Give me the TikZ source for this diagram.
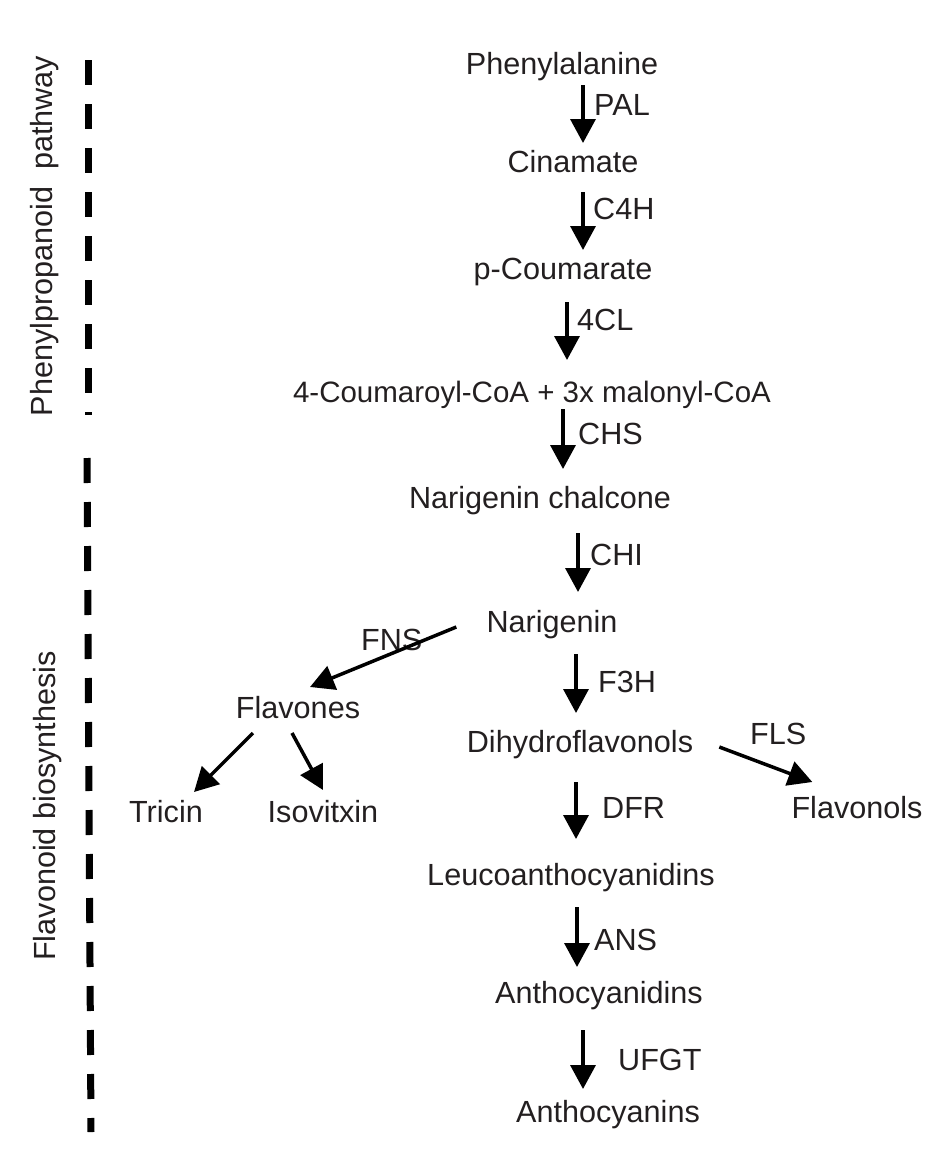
\documentclass[tikz,border=0pt]{standalone}
\usepackage{fontspec}
\setmainfont{Liberation Sans}
\usetikzlibrary{arrows.meta,calc}
\definecolor{ink}{HTML}{231F20}
\begin{document}
\begin{tikzpicture}[x=1pt,y=-1pt,font=\fontsize{30.6}{36}\selectfont,
	txt/.style={inner sep=0pt,anchor=base,text=ink},
	enz/.style={inner sep=0pt,anchor=base west,text=ink},
	flow/.style={line width=3.5pt,-{Triangle[width=25pt,length=24pt]}},
	phase/.style={line width=7pt,dash pattern=on 25pt off 19pt}]
	\useasboundingbox (0,0) rectangle (939,1154);
	\path 
	(562,74) node[txt] (phe) {Phenylalanine}
	(573,172) node[txt] (cin) {Cinamate}
	(563,279) node[txt] (pcou) {p-Coumarate}
	(532,402) node[txt,font=\fontsize{29.5}{36}\selectfont] (coa) {4-Coumaroyl-CoA + 3x malonyl-CoA}
	(540,508) node[txt] (chal) {Narigenin chalcone}
	(552,632) node[txt] (nar) {Narigenin}
	(298,718) node[txt] (flav) {Flavones}
	(166,822) node[txt] (tri) {Tricin}
	(323,822) node[txt] (iso) {Isovitxin}
	(580,752) node[txt] (dih) {Dihydroflavonols}
	(857,818) node[txt] (fol) {Flavonols}
	(571,885) node[txt] (leu) {Leucoanthocyanidins}
	(599,1003) node[txt] (antd) {Anthocyanidins}
	(608,1122) node[txt] (antn) {Anthocyanins}
	;
	% pathway sections
	\draw[phase] (88,60)--(88,415);
	\draw[phase] (87,458)--(91,1132);
	\node[txt,rotate=90] (ppp) at (52,236) {Phenylpropanoid~~pathway};
	\node[txt,rotate=90] (fb) at (55,806) {Flavonoid biosynthesis};
	% enzymes
	\foreach \t/\x/\y/\n in {PAL/594/115/pal,C4H/593/219/cfh,4CL/577/330/fcl,CHS/578/444/chs,CHI/590/565/chi,F3H/598/692/fth,DFR/602/818/dfr,ANS/594/950/ans,UFGT/618/1070/ufgt,FNS/361/650/fns,FLS/750/744/fls}{
		\node[enz] (\n) at (\x,\y) {\t};
	}
	\foreach \a/\b/\x/\s/\e in {phe/cin/583/11/29,cin/pcou/583/20/29,pcou/coa/567/23/42,coa/chal/563/7/39,chal/nar/578/25/40,nar/dih/576/22/39,dih/leu/576/30/46,leu/antd/577/22/36,antd/antn/583/27/33}{
		\draw[flow,shorten <=\s pt,shorten >=\e pt] (\a.base -| \x,0)--(\b.base -| \x,0);
	}
	\draw[flow] ($(nar.base west)+(-30,-5)$)--($(flav.base)+(12,-31)$);
	\draw[flow] ($(flav.base)+(-45,15)$)--($(tri.base)+(28,-30)$);
	\draw[flow] ($(flav.base)+(-6,15)$)--($(iso.base)+(0,-32)$);
	\draw[flow] ($(dih.base east)+(26,-5)$)--($(fol.base west)+(21,-36)$);
\end{tikzpicture}
\end{document}
